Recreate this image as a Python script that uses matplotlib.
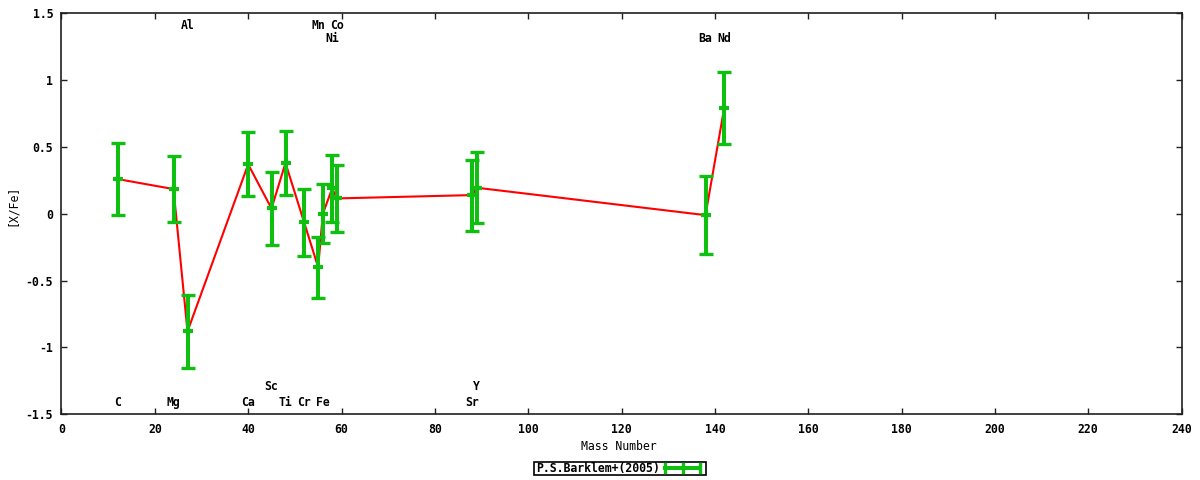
import matplotlib
matplotlib.use("Agg")
import matplotlib.pyplot as plt
from matplotlib.lines import Line2D
from matplotlib.patches import Rectangle
from matplotlib.ticker import FormatStrFormatter

plt.rcParams['font.family'] = ['DejaVu Sans Mono']
plt.rcParams['font.weight'] = 'bold'
plt.rcParams['font.size'] = 8.3
plt.rcParams['axes.unicode_minus'] = False

# abundance data, ordered by mass number
elements = ['C', 'Mg', 'Al', 'Ca', 'Sc', 'Ti', 'Cr', 'Mn', 'Fe', 'Ni', 'Co', 'Sr', 'Y', 'Ba', 'Nd']
mass = [12, 24, 27, 40, 45, 48, 52, 55, 56, 58, 59, 88, 89, 138, 142]
xfe = [0.26, 0.185, -0.88, 0.37, 0.04, 0.38, -0.065, -0.40, 0.0, 0.19, 0.115, 0.14, 0.195, -0.01, 0.79]
err = [0.27, 0.245, 0.27, 0.24, 0.27, 0.24, 0.25, 0.23, 0.22, 0.25, 0.25, 0.265, 0.265, 0.29, 0.27]

# where each element name goes (top/bottom of the frame, row 0 = outermost)
label_side = ['b', 'b', 't', 'b', 'b', 'b', 'b', 't', 'b', 't', 't', 'b', 'b', 't', 't']
label_row = [0, 0, 0, 0, 1, 0, 0, 0, 0, 1, 0, 0, 1, 1, 1]
row_y = {('t', 0): 1.405, ('t', 1): 1.315, ('b', 0): -1.413, ('b', 1): -1.293}

green = '#10c010'

fig = plt.figure(figsize=(12, 4.8), dpi=100)
ax = fig.add_axes([61.5 / 1200, 1 - 414.3 / 480, 1120 / 1200, 401 / 480])

ax.plot(mass, xfe, color='red', lw=1.5, zorder=2)
ax.errorbar(mass, xfe, yerr=err, fmt='none', ecolor=green, elinewidth=2.9,
            capsize=5, capthick=2.4, zorder=3)
ax.plot(mass, xfe, ls='none', marker='_', color=green, ms=6.5, mew=3, zorder=4)

for el, m, s, r in zip(elements, mass, label_side, label_row):
    ax.text(m, row_y[(s, r)], el, ha='center', va='center')

ax.set_xlim(0, 240)
ax.set_ylim(-1.5, 1.5)
ax.set_xticks(range(0, 241, 20))
ax.set_yticks([-1.5, -1, -0.5, 0, 0.5, 1, 1.5])
ax.yaxis.set_major_formatter(FormatStrFormatter('%g'))
ax.tick_params(direction='in', top=True, right=True, length=4, width=1, color='#202020')
ax.tick_params(axis='x', pad=6)
ax.tick_params(axis='y', pad=6)
for sp in ax.spines.values():
    sp.set_color('#202020')
    sp.set_linewidth(1.2)

ax.set_xlabel('Mass Number', va='center')
ax.xaxis.set_label_coords((619 - 61.5) / 1120, -(446.7 - 414.3) / 401)
ax.set_ylabel('[X/Fe]', va='center')
ax.yaxis.set_label_coords(-(61.5 - 12.3) / 1120, (414.3 - 205.7) / 401)

# gnuplot-style key below the plot
fig.add_artist(Rectangle((534 / 1200, 1 - 475 / 480), 172 / 1200, 13.3 / 480,
                         transform=fig.transFigure, fill=False, ec='black', lw=1.2))
fig.text(536 / 1200, 1 - 468.3 / 480, 'P.S.Barklem+(2005)', ha='left', va='center')
ky = 1 - 468.3 / 480
fig.add_artist(Line2D([665 / 1200, 700 / 1200], [ky, ky], transform=fig.transFigure,
                      color=green, lw=2.9))
for kx in [665, 682.5, 700]:
    fig.add_artist(Line2D([kx / 1200, kx / 1200], [ky - 4 / 480, ky + 4 / 480],
                          transform=fig.transFigure, color=green, lw=2.4))

fig.savefig('out.png', dpi=100)
